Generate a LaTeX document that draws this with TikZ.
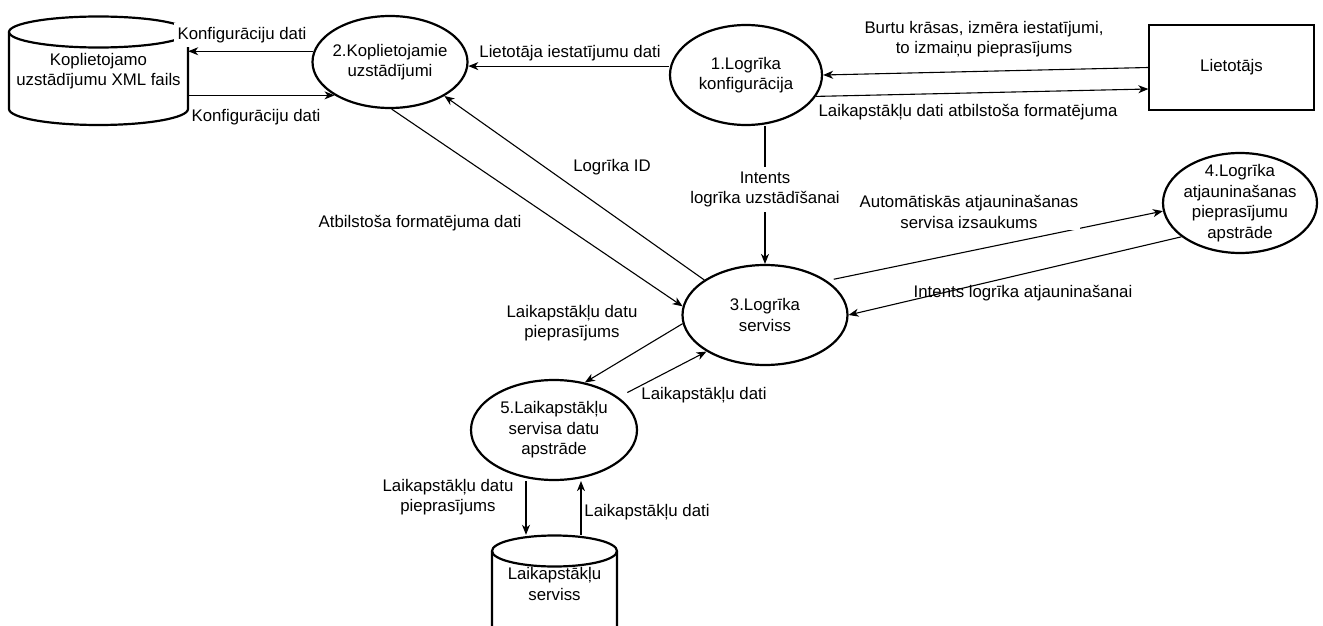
\documentclass[tikz,border=0pt]{standalone}
\usepackage{fontspec}
\setmainfont{Liberation Sans}
\usetikzlibrary{arrows.meta,shapes.geometric,calc}
\newcommand\dfont{\fontsize{16.8}{20.5}\selectfont}
\begin{document}
\begin{tikzpicture}[x=1pt,y=-1pt,
  proc/.style={ellipse,draw,line width=2.2pt,inner sep=0pt},
  ptxt/.style={font=\dfont,align=center,inner sep=0pt},
  lbl/.style={font=\dfont,align=center,inner sep=2pt},
  arr/.style={line width=1.1pt,-{Stealth[length=10pt,width=8pt,inset=3pt]}},
  cyl/.style={line width=2.2pt},
  ent/.style={draw,line width=1.3pt,minimum width=165,minimum height=85,font=\dfont}]
\useasboundingbox (0,0) rectangle (1323,626);
\fill[white] (0,0) rectangle (1323,626);

% cylinders
\draw[cyl] (9,32) -- (9,109) arc[start angle=180,end angle=0,x radius=89.5,y radius=16] -- (188,32);
\draw[cyl] (98.5,32) ellipse [x radius=89.5,y radius=15.5];
\begin{scope}
\clip (0,0) rectangle (1323,626);
\draw[cyl] (492,551) -- (492,626) arc[start angle=180,end angle=0,x radius=62.5,y radius=15] -- (617,551);
\draw[cyl] (554.5,551) ellipse [x radius=62.5,y radius=15.5];
\end{scope}
\node[ptxt,minimum width=179,minimum height=108] (c1) at (98.5,71) {Koplietojamo\\uzstādījumu XML fails};
\node[ptxt,minimum width=125,minimum height=98] (c2) at (554.5,584) {Laikapstākļu\\serviss};

% processes
\node[proc,minimum width=152,minimum height=100,label={[ptxt]center:1.Logrīka\\konfigurācija}] (n1) at (746,75) {};
\node[proc,minimum width=155,minimum height=92,label={[ptxt]center:2.Koplietojamie\\uzstādījumi}] (n2) at (390,62) {};
\node[proc,minimum width=165,minimum height=100,label={[ptxt]center:3.Logrīka\\serviss}] (n3) at (765,315) {};
\node[proc,minimum width=154,minimum height=100,label={[ptxt]center:4.Logrīka\\atjauninašanas\\pieprasījumu\\apstrāde}] (n4) at (1240,203) {};
\node[proc,minimum width=166,minimum height=100,label={[ptxt]center:5.Laikapstākļu\\servisa datu\\apstrāde}] (n5) at (554,430) {};
\node[ent] (u) at (1231.5,67.5) {Lietotājs};

\coordinate (m1) at ([xshift=-28.5pt]c2.north);
\coordinate (m2) at ([xshift=26.5pt]c2.north);
\coordinate (m3) at ([yshift=-21.5pt]u.west);

% connectors
\draw[arr] (n2.172) -- (n2.172 -| c1.east);
\draw[arr] (n2.211 -| c1.east) -- (n2.211);
\draw[arr] (n2.357 -| n1.west) -- (n2.357);
\draw[arr] (u.west) -- (n1.east);
\draw[arr] (n1.343) -- (m3);
\draw[arr] (n1.south -| n3.north) -- node[lbl,fill=white,inner sep=5pt,pos=.46] (l6) {Intents\\logrīka uzstādīšanai} (n3.north);
\draw[arr] (n2.272) -- (n3.174);
\draw[arr] (n3.150) -- (n2.328);
\draw[arr,shorten <=7pt] (n3.29) -- (n4.186);
\draw[arr] (n4.210) -- (n3.east);
\draw[arr] (n3.186) -- (n5.57);
\draw[arr,shorten <=10pt] (n5.27) -- (n3.212);
\draw[arr] (m1 |- n5.south) -- (m1);
\draw[arr] (m2) -- (m2 |- n5.south);

% labels
\node[lbl,fill=white,inner sep=4pt] (l1) at (242,35) {Konfigurāciju dati};
\node[lbl] (l2) at (256,117) {Konfigurāciju dati};
\node[lbl] (l3) at (570,53) {Lietotāja iestatījumu dati};
\node[lbl] (l4) at (984,39) {Burtu krāsas, izmēra iestatījumi,\\to izmaiņu pieprasījums};
\node[lbl] (l5) at (968,112) {Laikapstākļu dati atbilstoša formatējuma};
\node[lbl] (l7) at (612,167) {Logrīka ID};
\node[lbl] (l8) at (420,223) {Atbilstoša formatējuma dati};
\node[lbl,fill=white] (l9) at (969,212) {Automātiskās atjauninašanas\\servisa izsaukums};
\node[lbl] (l10) at (1023,293) {Intents logrīka atjauninašanai};
\node[lbl] (l11) at (572,323) {Laikapstākļu datu\\pieprasījums};
\node[lbl] (l12) at (704,395) {Laikapstākļu dati};
\node[lbl] (l13) at (448,497) {Laikapstākļu datu\\pieprasījums};
\node[lbl] (l14) at (647,512) {Laikapstākļu dati};
\end{tikzpicture}
\end{document}
